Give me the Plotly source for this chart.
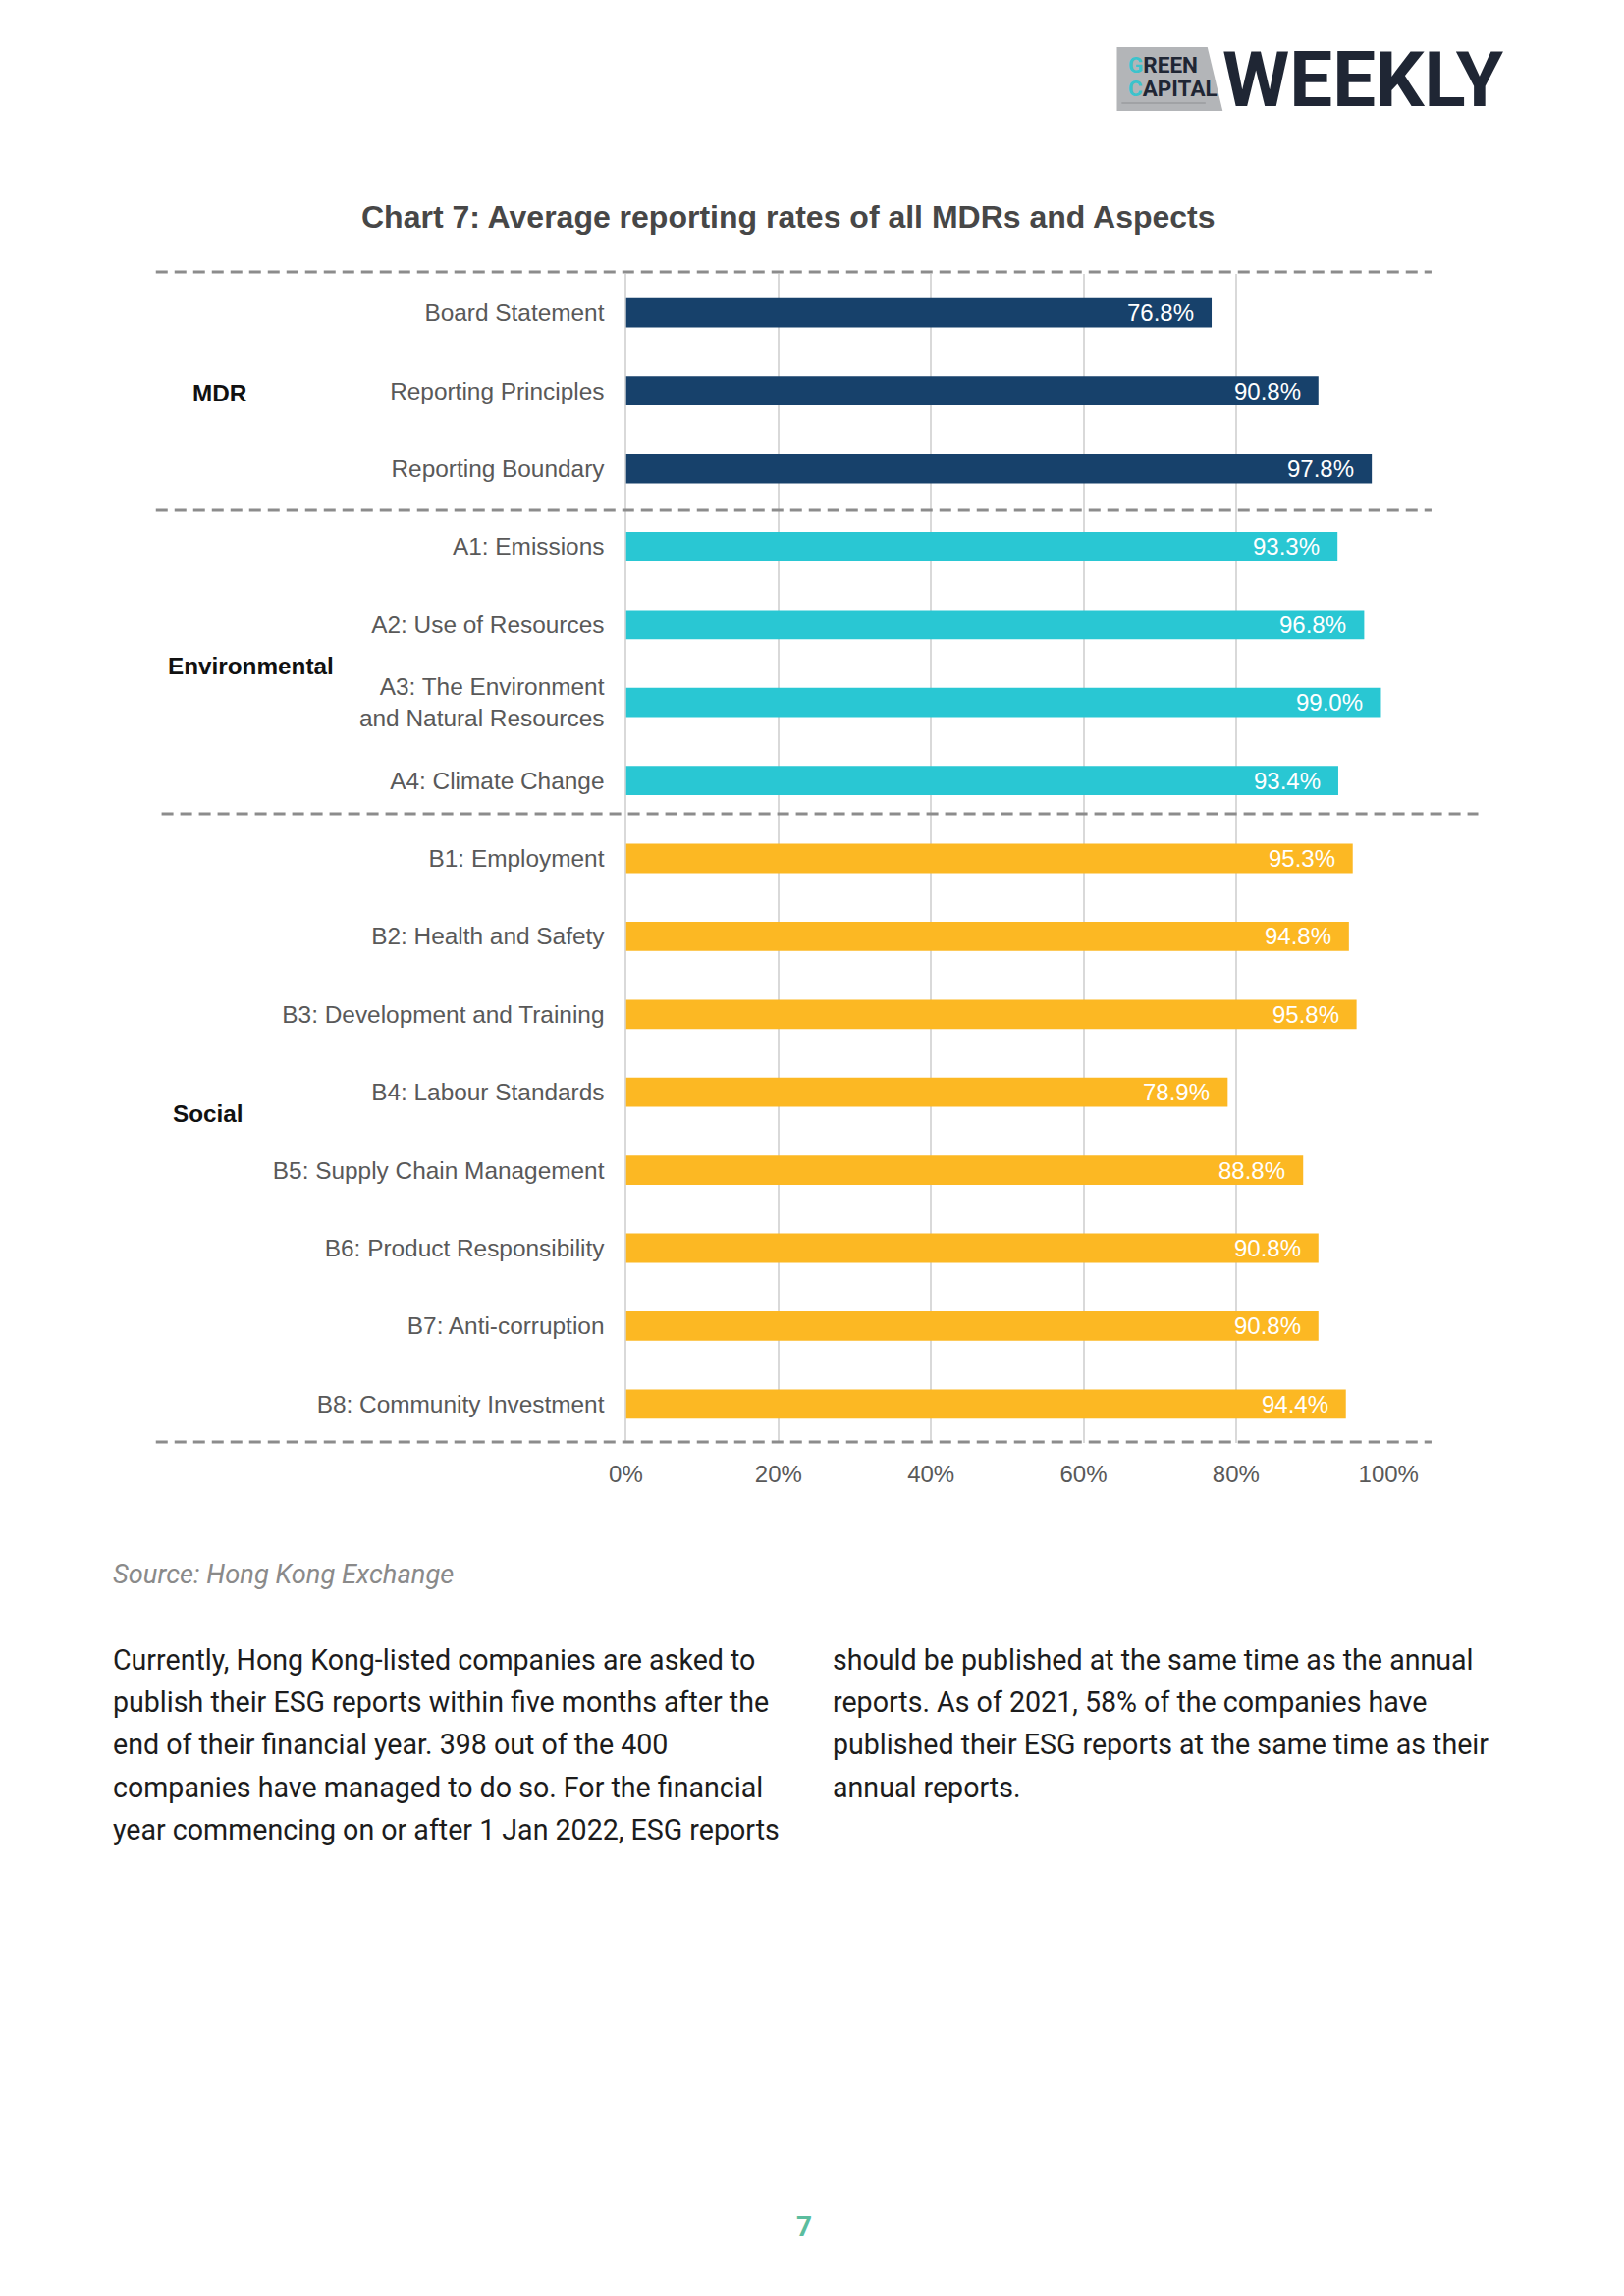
import plotly.graph_objects as go

W, H = 1654, 2339

# ---------------- data ----------------
categories = [
    "Board Statement",
    "Reporting Principles",
    "Reporting Boundary",
    "A1: Emissions",
    "A2: Use of Resources",
    "A3: The Environment<br>and Natural Resources",
    "A4: Climate Change",
    "B1: Employment",
    "B2: Health and Safety",
    "B3: Development and Training",
    "B4: Labour Standards",
    "B5: Supply Chain Management",
    "B6: Product Responsibility",
    "B7: Anti-corruption",
    "B8: Community Investment",
]
values = [76.8, 90.8, 97.8, 93.3, 96.8, 99.0, 93.4, 95.3, 94.8, 95.8, 78.9, 88.8, 90.8, 90.8, 94.4]
groups = ["MDR"] * 3 + ["Environmental"] * 4 + ["Social"] * 8
group_names = ["MDR", "Environmental", "Social"]
x_ticks = [0, 20, 40, 60, 80, 100]
x_tick_labels = ["0%", "20%", "40%", "60%", "80%", "100%"]

title_text = "Chart 7: Average reporting rates of all MDRs and Aspects"
source_text = "Source: Hong Kong Exchange"
body_left = [
    "Currently, Hong Kong-listed companies are asked to",
    "publish their ESG reports within five months after the",
    "end of their financial year. 398 out of the 400",
    "companies have managed to do so. For the financial",
    "year commencing on or after 1 Jan 2022, ESG reports",
]
body_right = [
    "should be published at the same time as the annual",
    "reports. As of 2021, 58% of the companies have",
    "published their ESG reports at the same time as their",
    "annual reports.",
]
page_number = "7"

# ---------------- styles ----------------
group_colors = {"MDR": "#17416b", "Environmental": "#29c7d3", "Social": "#fcb823"}
FONT = "Liberation Sans, Arial, sans-serif"
BODY_FONT = "Roboto, Noto Sans, sans-serif"


def px(x):
    return x / W


def py(y):
    return 1 - y / H


fig = go.Figure()
fig.add_trace(
    go.Bar(
        y=categories,
        x=values,
        orientation="h",
        marker=dict(color=[group_colors[g] for g in groups], line=dict(width=0)),
        width=0.375,
        hoverinfo="x+y",
        showlegend=False,
    )
)

annotations = []
# value labels inside bar ends
for i, v in enumerate(values):
    annotations.append(
        dict(
            x=v, y=i, xref="x", yref="y", text=f"{v:.1f}%", showarrow=False,
            xanchor="right", yanchor="middle", xshift=-16,
            font=dict(family=FONT, size=24, color="white"),
        )
    )

# group labels
group_pos = {"MDR": (182, 1.03), "Environmental": (157, 4.53), "Social": (162, 10.28)}
for g in group_names:
    gx, gy = group_pos[g]
    annotations.append(
        dict(
            x=px(gx), y=gy, xref="paper", yref="y", text=f"<b>{g}</b>", showarrow=False,
            xanchor="left", yanchor="middle",
            font=dict(family=FONT, size=24.3, color="#111111"),
        )
    )

# title
annotations.append(
    dict(
        x=px(810), y=py(221), xref="paper", yref="paper", text=f"<b>{title_text}</b>",
        showarrow=False, xanchor="center", yanchor="middle",
        font=dict(family=FONT, size=32, color="#474747"),
    )
)

# source
annotations.append(
    dict(
        x=px(99), y=py(1604), xref="paper", yref="paper", text=f"<i>{source_text}</i>",
        showarrow=False, xanchor="left", yanchor="middle",
        font=dict(family=BODY_FONT, size=27.3, color="#8a8a8a"),
    )
)

# body text
for col_x, lines in ((99, body_left), (854, body_right)):
    for k, line in enumerate(lines):
        annotations.append(
            dict(
                x=px(col_x), y=py(1691 + 43.2 * k), xref="paper", yref="paper", text=line,
                showarrow=False, xanchor="left", yanchor="middle",
                font=dict(family=BODY_FONT, size=28.6, color="#1c1c1c"),
            )
        )

# page number
annotations.append(
    dict(
        x=px(826), y=py(2268), xref="paper", yref="paper", text=f"<b>{page_number}</b>",
        showarrow=False, xanchor="center", yanchor="middle",
        font=dict(family=BODY_FONT, size=28, color="#5bbd9e"),
    )
)

# logo texts
LOGO_FONT = "Roboto, " + FONT
annotations.append(
    dict(
        x=px(1164), y=py(66), xref="paper", yref="paper",
        text="<b><span style='color:#3cc3cc'>G</span>REEN</b>",
        showarrow=False, xanchor="left", yanchor="middle",
        font=dict(family=LOGO_FONT, size=22.5, color="#1f2634"),
    )
)
annotations.append(
    dict(
        x=px(1164), y=py(90), xref="paper", yref="paper",
        text="<b><span style='color:#3cc3cc'>C</span>APITAL</b>",
        showarrow=False, xanchor="left", yanchor="middle",
        font=dict(family=LOGO_FONT, size=22.5, color="#1f2634"),
    )
)
annotations.append(
    dict(
        x=px(1263), y=py(81), xref="paper", yref="paper", text="<b>WEEKLY</b>",
        showarrow=False, xanchor="left", yanchor="middle",
        font=dict(family=LOGO_FONT, size=78, color="#1f2634"),
    )
)

shapes = []
# logo grey box with slanted right edge
shapes.append(
    dict(
        type="path", xref="paper", yref="paper",
        path=(f"M {px(1154)} {py(48)} L {px(1249)} {py(48)} L {px(1265)} {py(113)} "
              f"L {px(1154)} {py(113)} Z"),
        fillcolor="#b3b5b8", line=dict(width=0), layer="below",
    )
)
shapes.append(
    dict(type="line", xref="paper", yref="paper", x0=px(1159), x1=px(1247),
         y0=py(105), y1=py(105), line=dict(color="#8d8f92", width=1))
)

# dashed separators
for (x0, x1, yy) in ((146, 1484, 277), (146, 1484, 520), (152, 1533, 829), (146, 1484, 1469)):
    shapes.append(
        dict(type="line", xref="paper", yref="paper", x0=px(x0), x1=px(x1), y0=py(yy), y1=py(yy),
             line=dict(color="#8c8c8c", width=3, dash="12px,7px"), layer="above")
    )

fig.update_layout(
    width=W, height=H,
    margin=dict(l=0, r=0, t=0, b=0),
    paper_bgcolor="white", plot_bgcolor="white",
    annotations=annotations,
    shapes=shapes,
    xaxis=dict(
        domain=[px(639), px(1439)], range=[0, 100], tickvals=x_ticks, ticktext=x_tick_labels,
        showgrid=True, gridcolor="#d9d9d9", gridwidth=1.5, zeroline=True, zerolinecolor="#d9d9d9",
        zerolinewidth=1.5, showline=False, ticks="", ticklabelstandoff=15,
        tickfont=dict(family=FONT, size=24, color="#595959"), fixedrange=True,
    ),
    yaxis=dict(
        domain=[py(1470), py(279)], type="category", categoryorder="array", categoryarray=categories,
        range=[len(categories) - 0.5, -0.5], showgrid=False, zeroline=False, showline=False, ticks="",
        ticklabelstandoff=21, tickfont=dict(family=FONT, size=24.4, color="#595959"), fixedrange=True,
    ),
)

fig.write_html(
    "out.html",
    config={"displayModeBar": False},
    post_script="document.body.style.margin='0';document.body.style.overflow='hidden';",
)
